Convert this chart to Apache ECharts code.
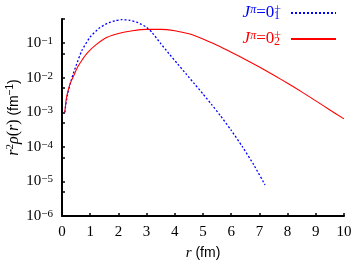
<!DOCTYPE html>
<html><head><meta charset="utf-8">
<script src="https://cdn.jsdelivr.net/npm/echarts@6/dist/echarts.min.js"></script>
<style>html,body{margin:0;padding:0;background:#fff}#c{width:354px;height:264px}</style>
</head><body><div id="c"></div>
<script>
// r (fm) and r^2 rho(r) (fm^-1) for J^pi = 0_1^+
const r1 = [0.1, 0.15, 0.2, 0.3, 0.4, 0.5, 0.7, 1.0, 1.3, 1.6, 1.9, 2.1, 2.4, 2.7, 3.0, 3.2, 3.5, 3.8, 4.1, 4.4, 4.7, 5.0, 5.3, 5.6, 6.0, 6.4, 6.8, 7.2];
const v1 = [0.001, 0.0020, 0.00331, 0.00708, 0.0132, 0.0224, 0.0603, 0.151, 0.263, 0.372, 0.447, 0.479, 0.457, 0.389, 0.288, 0.200, 0.0977, 0.0490, 0.0251, 0.0129, 0.00661, 0.00339, 0.00170, 0.000832, 0.000302, 0.000100, 0.0000302, 0.00000794];
// J^pi = 0_2^+
const r2 = [0.1, 0.15, 0.22, 0.3, 0.4, 0.55, 0.7, 0.9, 1.2, 1.6, 2.0, 2.5, 3.0, 3.5, 4.0, 4.5, 5.0, 5.5, 6.0, 6.5, 7.0, 7.5, 8.0, 8.5, 9.0, 9.5, 10.0];
const v2 = [0.001, 0.0024, 0.00437, 0.00708, 0.0107, 0.0200, 0.0316, 0.0525, 0.0891, 0.148, 0.191, 0.229, 0.251, 0.251, 0.229, 0.186, 0.132, 0.0871, 0.0550, 0.0339, 0.0204, 0.0120, 0.00692, 0.00389, 0.00214, 0.00117, 0.000646];
const xTicks = [0, 1, 2, 3, 4, 5, 6, 7, 8, 9, 10];
const yLabels = [1e-6, 1e-5, 1e-4, 1e-3, 1e-2, 1e-1];
const yTicks = [1e-6, 5e-6, 1e-5, 5e-5, 1e-4, 5e-4, 1e-3, 5e-3, 1e-2, 5e-2, 1e-1, 5e-1];
const seriesNames = ['s1', 's2'];

const SERIF = 'Liberation Serif';
const SANS = 'Liberation Sans';
function legendRich(c, col) {
  return {
    ['J' + c]: {fontFamily: SERIF, fontStyle: 'italic', fontSize: 17, lineHeight: 18, color: col},
    ['P' + c]: {fontFamily: SERIF, fontStyle: 'italic', fontSize: 12, lineHeight: 11, verticalAlign: 'top', color: col},
    ['E' + c]: {fontFamily: SERIF, fontSize: 17, lineHeight: 18, color: col},
    ['U' + c]: {fontFamily: SERIF, fontSize: 12, lineHeight: 10, verticalAlign: 'top', color: col, padding: [0, -7, 0, 0]},
    ['D' + c]: {fontFamily: SERIF, fontSize: 12, lineHeight: 10, verticalAlign: 'bottom', color: col, padding: [0, 6, 0, 0]}
  };
}
const rich = Object.assign({}, legendRich('b', '#0000ff'), legendRich('r', '#ff0000'));

const chart = echarts.init(document.getElementById('c'), null, {renderer: 'canvas'});
chart.setOption({
  animation: false,
  backgroundColor: '#fff',
  grid: {left: 62, right: 10, top: 19, bottom: 48, outerBoundsMode: 'none'},
  legend: {
    orient: 'vertical', right: 17, top: 4, align: 'right', padding: 0,
    itemWidth: 45, itemHeight: 14, itemGap: 8,
    data: seriesNames,
    itemStyle: {opacity: 0},
    formatter: function (n) {
      const c = n === 's1' ? 'b' : 'r';
      const sub = n === 's1' ? '1' : '2';
      return '{J' + c + '|J}{P' + c + '|π}{E' + c + '|=0}{U' + c + '|+}{D' + c + '|' + sub + '}';
    },
    textStyle: {rich: rich}
  },
  xAxis: {
    type: 'value', min: 0, max: 10, interval: 1,
    name: '{i|r}{n| (fm)}', nameLocation: 'middle', nameGap: 30,
    nameTextStyle: {rich: {
      i: {fontFamily: SERIF, fontStyle: 'italic', fontSize: 15, color: '#000'},
      n: {fontFamily: SANS, fontSize: 14, color: '#000'}
    }},
    axisLine: {show: true, onZero: false, lineStyle: {color: '#000', width: 2}},
    axisTick: {show: true, inside: true, length: 3, lineStyle: {color: '#000', width: 1.5}, customValues: xTicks},
    axisLabel: {fontFamily: SERIF, fontSize: 15, color: '#000', margin: 9, customValues: xTicks},
    splitLine: {show: false}
  },
  yAxis: {
    type: 'log', logBase: 10, min: 1e-6, max: 0.5,
    name: '{i|r}{s|2}{i|ρ}{m|(}{i|r}{m|)}{n| (fm}{t|−1}{n|)}',
    nameLocation: 'middle', nameRotate: 90, nameGap: 39, nameMoveOverlap: false,
    nameTextStyle: {rich: {
      i: {fontFamily: SERIF, fontStyle: 'italic', fontSize: 16, lineHeight: 18, color: '#000'},
      m: {fontFamily: SERIF, fontSize: 16, lineHeight: 18, color: '#000'},
      s: {fontFamily: SERIF, fontSize: 11, lineHeight: 11, verticalAlign: 'top', color: '#000'},
      n: {fontFamily: SANS, fontSize: 14, lineHeight: 18, color: '#000'},
      t: {fontFamily: SANS, fontSize: 10, lineHeight: 10, verticalAlign: 'top', color: '#000'}
    }},
    axisLine: {show: true, lineStyle: {color: '#000', width: 2}},
    axisTick: {show: true, inside: true, length: 3, lineStyle: {color: '#000', width: 1.5}, customValues: yTicks},
    axisLabel: {
      margin: 9, customValues: yLabels,
      formatter: function (v) {
        const e = Math.round(Math.log10(v));
        return '{b|10}{s|' + (e < 0 ? '−' + (-e) : e) + '}';
      },
      rich: {
        b: {fontFamily: SERIF, fontSize: 15, lineHeight: 15, verticalAlign: 'bottom', color: '#000'},
        s: {fontFamily: SERIF, fontSize: 11, lineHeight: 11, verticalAlign: 'top', color: '#000'}
      },
      lineHeight: 18
    },
    splitLine: {show: false}
  },
  series: [
    {name: 's1', type: 'line', showSymbol: false, symbol: 'none', smooth: 0.2,
     data: r1.map((r, i) => [r, v1[i]]),
     lineStyle: {color: '#0000ff', width: 1.3, type: [2, 2]}, itemStyle: {color: '#0000ff'}},
    {name: 's2', type: 'line', showSymbol: false, symbol: 'none', smooth: 0.2,
     data: r2.map((r, i) => [r, v2[i]]),
     lineStyle: {color: '#ff0000', width: 1.1}, itemStyle: {color: '#ff0000'}}
  ]
});
</script></body></html>
